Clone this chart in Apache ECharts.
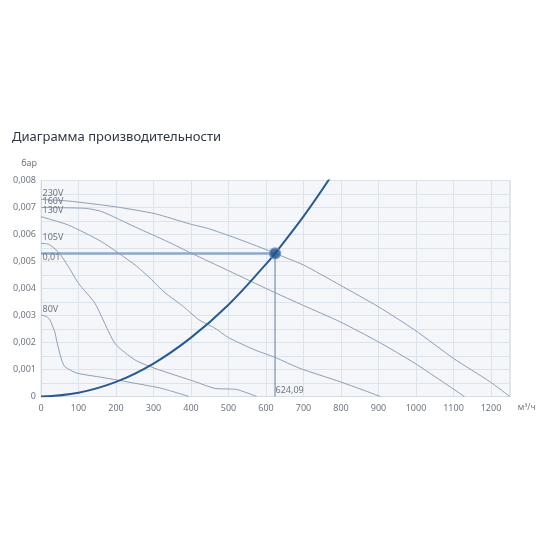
<!DOCTYPE html>
<html><head><meta charset="utf-8">
<script src="https://cdn.jsdelivr.net/npm/echarts@6/dist/echarts.min.js"></script>
<style>html,body{margin:0;padding:0;background:#fff}#c{width:550px;height:550px}</style>
</head><body><div id="c"></div>
<script>
// Data
const titleText = 'Диаграмма производительности';
const yUnit = 'бар';
const xUnit = 'м³/ч';
const curveNames = ['230V', '160V', '130V', '105V', '80V'];
const q230 = [0, 73, 197, 304, 397, 446, 517, 606, 624.09, 700, 797, 899, 997, 1100, 1197, 1250];
const p230 = [0.0073, 0.00724, 0.00703, 0.00677, 0.00639, 0.00622, 0.00588, 0.00541, 0.0053, 0.00487, 0.00413, 0.00333, 0.00246, 0.00141, 0.00055, 0];
const q160 = [0, 117, 162, 251, 340, 402, 500, 611, 700, 797, 899, 997, 1129];
const p160 = [0.007, 0.00697, 0.00685, 0.00628, 0.00572, 0.0053, 0.00466, 0.00393, 0.00337, 0.00277, 0.00203, 0.00123, 0];
const q130 = [0, 73, 162, 251, 291, 330, 380, 420, 464, 500, 571, 624, 691, 797, 859, 905];
const p130 = [0.00666, 0.00635, 0.00573, 0.00487, 0.00438, 0.00385, 0.00333, 0.00285, 0.00253, 0.00218, 0.00172, 0.00145, 0.00104, 0.00055, 0.00024, 0];
const q105 = [0, 20, 46, 73, 100, 144, 197, 251, 304, 411, 464, 522, 575];
const p105 = [0.00567, 0.00564, 0.00536, 0.00481, 0.00419, 0.00345, 0.00197, 0.00135, 0.00104, 0.00055, 0.0003, 0.00026, 0];
const q80 = [0, 15, 24, 37, 42, 55, 64, 95, 162, 251, 322, 395];
const p80 = [0.00302, 0.00296, 0.00283, 0.00238, 0.00205, 0.00135, 0.0011, 0.00087, 0.00071, 0.00049, 0.0003, 0];
const sysQ = [0, 100, 200, 300, 400, 500, 600, 624.09, 700, 771];
const sysP = [0, 0.00014, 0.00054, 0.00122, 0.00218, 0.0034, 0.0049, 0.0053, 0.00667, 0.0081];
const opQ = 624.09;
const opP = 0.0053;
const opQLabel = '624,09';
const opPLabel = '0,01';
const xTicks = { min: 0, max: 1250, interval: 100 };
const yTicks = { min: 0, max: 0.008, interval: 0.0005 };

const curveQ = [q230, q160, q130, q105, q80];
const curveP = [p230, p160, p130, p105, p80];
const curveColor = '#8d9fb8';
const labelColor = '#6f7782';

function pairs(qs, ps) { return qs.map((q, i) => [q, ps[i]]); }

const series = [];
series.push({
  type: 'line', silent: true, symbol: 'circle', symbolSize: 1, showSymbol: true,
  itemStyle: { color: 'rgba(0,0,0,0)' },
  lineStyle: { color: '#8ea8c9', width: 2.5 }, z: 2,
  data: [
    { value: [0, opP], label: { show: true, formatter: opPLabel, position: 'right', distance: 0, offset: [1, 4], color: labelColor, fontSize: 9, fontFamily: 'Noto Sans' } },
    [opQ, opP]
  ]
});
series.push({
  type: 'line', silent: true, symbol: 'circle', symbolSize: 1, showSymbol: true,
  itemStyle: { color: 'rgba(0,0,0,0)' },
  lineStyle: { color: '#5f7ea6', width: 1 }, z: 2,
  data: [
    [opQ, opP],
    { value: [opQ, 0], label: { show: true, formatter: opQLabel, position: 'right', distance: 0, offset: [0, -6], color: labelColor, fontSize: 9, fontFamily: 'Noto Sans' } }
  ]
});
curveNames.forEach((name, k) => {
  const d = pairs(curveQ[k], curveP[k]).map((pt, i) => i === 0 ? {
    value: pt,
    label: { show: true, formatter: name, position: 'right', distance: 0, offset: [1, -6], color: labelColor, fontSize: 9, fontFamily: 'Noto Sans' }
  } : pt);
  series.push({
    name, type: 'line', silent: true, smooth: 0.2,
    symbol: 'circle', symbolSize: 1, showSymbol: true,
    itemStyle: { color: 'rgba(0,0,0,0)' },
    lineStyle: { color: curveColor, width: 1 }, z: 3, data: d
  });
});
series.push({
  type: 'line', silent: true, smooth: 0.4, showSymbol: false,
  lineStyle: { color: '#2b5a8e', width: 2 }, z: 4,
  data: pairs(sysQ, sysP)
});
series.push({
  type: 'scatter', silent: true, symbolSize: 11, z: 5,
  itemStyle: { color: '#1f5089', borderColor: '#6f93c0', borderWidth: 1.5 },
  data: [[opQ, opP]]
});

const chart = echarts.init(document.getElementById('c'));
chart.setOption({
  animation: false,
  backgroundColor: '#ffffff',
  title: {
    text: titleText, left: 7, top: 126,
    textStyle: { fontFamily: 'Noto Sans', fontSize: 13, fontWeight: 'normal', color: '#2f3741' }
  },
  grid: {
    left: 41, right: 40.25, top: 180.5, bottom: 153.5,
    show: true, backgroundColor: '#f4f6f9', borderColor: '#dde3ea', borderWidth: 1
  },
  xAxis: {
    type: 'value', min: xTicks.min, max: xTicks.max, interval: xTicks.interval,
    name: xUnit, nameLocation: 'end', nameGap: 8,
    nameTextStyle: { color: labelColor, fontSize: 8.5, fontFamily: 'Noto Sans', verticalAlign: 'top', padding: [7, 0, 0, 0] },
    axisLine: { show: true, lineStyle: { color: '#d5dbe3' } },
    axisTick: { show: false },
    axisLabel: { color: labelColor, fontSize: 9, fontFamily: 'Noto Sans', margin: 7, showMaxLabel: false, formatter: v => String(v) },
    splitLine: { show: true, lineStyle: { color: '#dde3ea', width: 1 } }
  },
  yAxis: {
    type: 'value', min: yTicks.min, max: yTicks.max, interval: yTicks.interval,
    name: yUnit, nameLocation: 'end', nameGap: 13,
    nameTextStyle: { color: labelColor, fontSize: 9, fontFamily: 'Noto Sans', align: 'right', padding: [0, 4, 0, 0] },
    axisLine: { show: true, lineStyle: { color: '#d5dbe3' } },
    axisTick: { show: false },
    axisLabel: {
      color: labelColor, fontSize: 9, fontFamily: 'Noto Sans', margin: 5,
      formatter: v => {
        const m = Math.round(v / 0.0005);
        if (m % 2 !== 0) return '';
        if (m === 0) return '0';
        return (m * 0.0005).toFixed(3).replace('.', ',');
      }
    },
    splitLine: { show: true, lineStyle: { color: '#dde3ea', width: 1 } }
  },
  series
});
</script></body></html>
